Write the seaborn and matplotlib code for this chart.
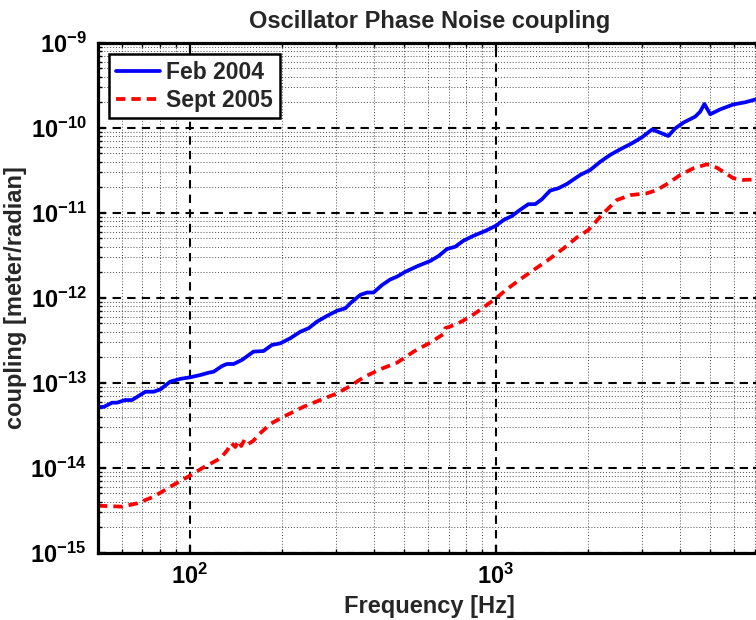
import numpy as np
import pandas as pd
import matplotlib
matplotlib.use("Agg")
import matplotlib.pyplot as plt
from matplotlib.ticker import FixedLocator, LogLocator, LogFormatterMathtext, NullFormatter
import seaborn as sns

# Feb 2004 coupling measurement
feb_freq = [50.1, 52.3, 55.7, 57.8, 61.5, 64.7, 71.6, 76.2, 80.2, 86.3, 93.1, 100.5,
            108.1, 115.1, 119.7, 127.4, 132.1, 139.0, 147.9, 161.4, 174.2, 185.4,
            197.7, 212.8, 229.6, 244.3, 260.0, 280.5, 302.7, 322.1, 334.2, 360.6,
            379.3, 398.1, 424.6, 451.9, 475.3, 505.8, 558.5, 609.5, 650.1, 691.8,
            736.2, 783.4, 845.3, 922.6, 1000, 1059, 1127, 1199, 1276, 1343, 1413,
            1503, 1600, 1706, 1884, 2032, 2193, 2360, 2547, 2780, 2999, 3236, 3443,
            3656, 3855, 4102, 4477, 4645, 4797, 5012, 5395, 5970, 6516, 7079, 7360]
feb_coupling = [5.18e-14, 5.19e-14, 5.82e-14, 5.82e-14, 6.25e-14, 6.25e-14, 7.83e-14,
                7.83e-14, 8.36e-14, 1.03e-13, 1.11e-13, 1.16e-13, 1.23e-13, 1.31e-13,
                1.35e-13, 1.57e-13, 1.66e-13, 1.66e-13, 1.85e-13, 2.32e-13, 2.36e-13,
                2.78e-13, 2.91e-13, 3.33e-13, 3.98e-13, 4.37e-13, 5.22e-13, 6.10e-13,
                7.03e-13, 7.50e-13, 8.59e-13, 1.08e-12, 1.15e-12, 1.15e-12, 1.41e-12,
                1.64e-12, 1.77e-12, 2.02e-12, 2.38e-12, 2.70e-12, 3.10e-12, 3.74e-12,
                3.98e-12, 4.69e-12, 5.36e-12, 6.10e-12, 7.03e-12, 8.20e-12, 9.14e-12,
                1.08e-11, 1.26e-11, 1.26e-11, 1.44e-11, 1.82e-11, 1.94e-11, 2.18e-11,
                2.78e-11, 3.18e-11, 3.98e-11, 4.78e-11, 5.57e-11, 6.55e-11, 7.71e-11,
                9.53e-11, 8.73e-11, 7.98e-11, 9.84e-11, 1.15e-10, 1.35e-10, 1.54e-10,
                1.90e-10, 1.44e-10, 1.64e-10, 1.88e-10, 1.99e-10, 2.16e-10, 2.24e-10]

# Sept 2005 coupling measurement
sep_freq = [50.1, 60.1, 67.3, 76.2, 86.3, 97.9, 110.9, 125.9, 132.6, 136.6, 140.8,
            143.9, 147.2, 150.7, 155.2, 161.1, 168.7, 183.2, 202.3, 235.5, 266.7,
            302.7, 334.2, 369.8, 418.8, 475.3, 538.3, 609.5, 674.5, 682.3, 746.4,
            824.1, 912.0, 1000, 1086, 1199, 1327, 1469, 1663, 1841, 2004, 2244,
            2483, 2748, 3112, 3357, 3656, 4000, 4416, 4887, 5272, 5970, 6397, 7079,
            7360]
sep_coupling = [3.57e-15, 3.48e-15, 3.81e-15, 4.56e-15, 5.97e-15, 7.71e-15, 1.01e-14,
                1.29e-14, 1.61e-14, 1.95e-14, 1.75e-14, 2.07e-14, 1.80e-14, 2.12e-14,
                1.90e-14, 2.07e-14, 2.49e-14, 3.27e-14, 3.98e-14, 5.22e-14, 6.25e-14,
                7.50e-14, 9.14e-14, 1.16e-13, 1.44e-13, 1.72e-13, 2.32e-13, 2.96e-13,
                3.74e-13, 4.37e-13, 4.91e-13, 5.97e-13, 7.71e-13, 9.84e-13, 1.26e-12,
                1.64e-12, 2.12e-12, 2.72e-12, 3.81e-12, 5.14e-12, 6.25e-12, 9.84e-12,
                1.41e-11, 1.61e-11, 1.69e-11, 1.85e-11, 2.22e-11, 2.78e-11, 3.33e-11,
                3.71e-11, 3.38e-11, 2.54e-11, 2.43e-11, 2.46e-11, 2.48e-11]

series_labels = ["Feb 2004", "Sept 2005"]
x_major_ticks = [1e2, 1e3]
y_major_ticks = [1e-15, 1e-14, 1e-13, 1e-12, 1e-11, 1e-10, 1e-9]

sns.set_style("ticks")
plt.rcParams["font.family"] = ["Liberation Sans", "DejaVu Sans"]
plt.rcParams["font.weight"] = "bold"
plt.rcParams["mathtext.fontset"] = "custom"
plt.rcParams["mathtext.rm"] = "Liberation Sans:bold"
plt.rcParams["mathtext.bf"] = "Liberation Sans:bold"
plt.rcParams["mathtext.it"] = "Liberation Sans:bold"
plt.rcParams["mathtext.default"] = "bf"

fig = plt.figure(figsize=(7.56, 6.2), dpi=100)
ax = fig.add_axes([97.7 / 756, 1 - 552.7 / 620, (761.3 - 97.7) / 756, 510 / 620])

df_feb = pd.DataFrame({"freq": feb_freq, "coupling": feb_coupling})
df_sep = pd.DataFrame({"freq": sep_freq, "coupling": sep_coupling})

sns.lineplot(data=df_feb, x="freq", y="coupling", ax=ax, color="#0000ff",
             linewidth=2.7, estimator=None, sort=False, label=series_labels[0])
sns.lineplot(data=df_sep, x="freq", y="coupling", ax=ax, color="#ff0000",
             linewidth=2.7, estimator=None, sort=False, label=series_labels[1])
ax.lines[1].set_dashes([2.5, 1.6])

ax.set_xscale("log")
ax.set_yscale("log")
ax.set_xlim(50, 7360)
ax.set_ylim(1e-15, 1e-9)

ax.xaxis.set_major_locator(FixedLocator(x_major_ticks))
ax.yaxis.set_major_locator(FixedLocator(y_major_ticks))
ax.xaxis.set_minor_locator(LogLocator(base=10, subs=np.arange(2, 10), numticks=100))
ax.yaxis.set_minor_locator(LogLocator(base=10, subs=np.arange(2, 10), numticks=100))
ax.xaxis.set_major_formatter(LogFormatterMathtext())
ax.yaxis.set_major_formatter(LogFormatterMathtext())
ax.xaxis.set_minor_formatter(NullFormatter())
ax.yaxis.set_minor_formatter(NullFormatter())

ax.grid(which="major", color="black", linestyle=(0, (4, 3)), linewidth=1.5)
ax.grid(which="minor", color="black", linestyle=(0, (1, 2.0)), linewidth=0.7, alpha=0.7)
ax.set_axisbelow(True)

for side in ["left", "bottom", "top", "right"]:
    ax.spines[side].set_visible(True)
    ax.spines[side].set_linewidth(2.3)
    ax.spines[side].set_color("black")

ax.tick_params(which="both", direction="in", top=True, right=True, colors="black")
ax.tick_params(which="major", length=6, width=1.6, labelsize=17, pad=8)
ax.tick_params(which="minor", length=3, width=1.0)

ax.set_xlabel("Frequency [Hz]", fontsize=17, fontweight="bold", labelpad=4)
ax.set_ylabel("coupling [meter/radian]", fontsize=17, fontweight="bold", labelpad=2)
ax.set_title("Oscillator Phase Noise coupling", fontsize=17, fontweight="bold", pad=10.5)

leg = ax.legend(loc="upper left", fontsize=16.5, frameon=True, fancybox=False,
                edgecolor="black", framealpha=1, borderpad=0.3, handlelength=1.9,
                handletextpad=0.3, labelspacing=0.2, borderaxespad=0.5)
leg.get_frame().set_linewidth(1.8)
for t in leg.get_texts():
    t.set_fontweight("bold")

fig.savefig("out.png", dpi=100)
